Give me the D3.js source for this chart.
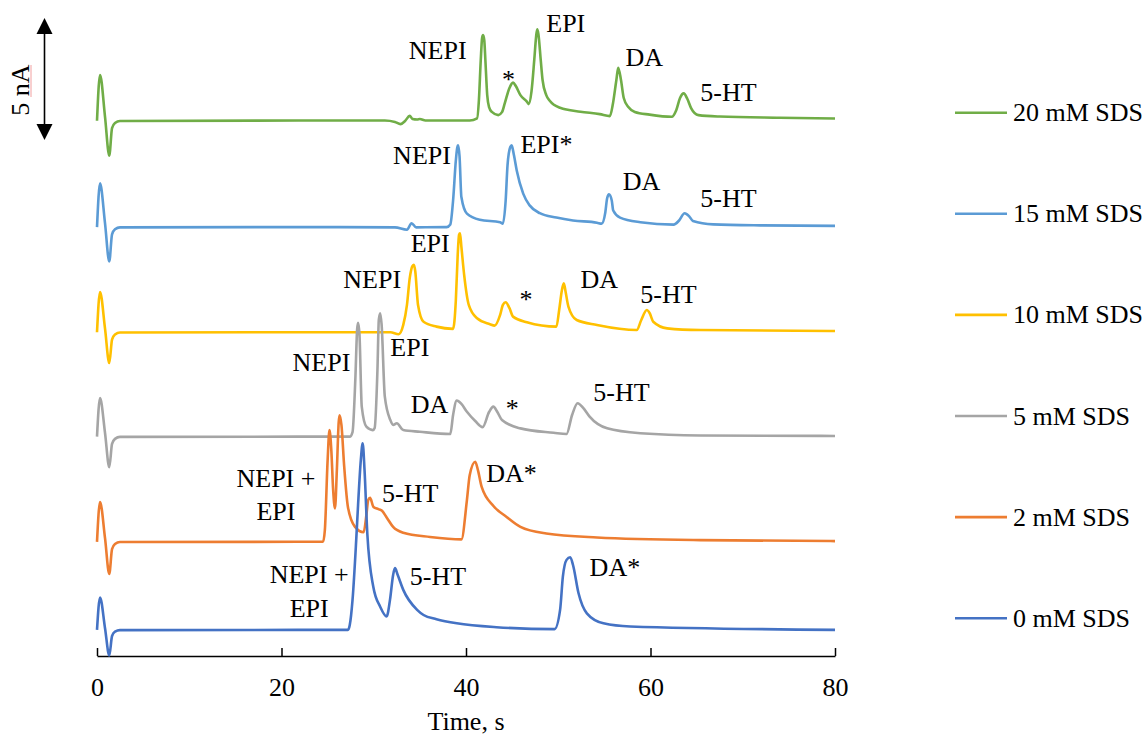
<!DOCTYPE html>
<html>
<head>
<meta charset="utf-8">
<script src="https://cdn.jsdelivr.net/npm/d3@7"></script>
<style>
  body { margin: 0; background: #fff; }
  svg text { font-family: "Liberation Serif", "Times New Roman", serif; fill: #000; }
</style>
</head>
<body>
<div id="chart"></div>
<script>
// electropherograms, time (s) vs current above each trace's own baseline (nA)
var seriesNames = ['20 mM SDS', '15 mM SDS', '10 mM SDS', '5 mM SDS', '2 mM SDS', '0 mM SDS'];
var seriesColors = ['#70AD47', '#5B9BD5', '#FFC000', '#A5A5A5', '#ED7D31', '#4472C4'];
// baseline of each trace (nA), stacked
var offsets = [21.94, 17.58, 13.27, 8.99, 4.68, 1.07];
var xTicks = [0, 20, 40, 60, 80];

var sds20 = [[0,0],[0.33,1.87],[0.87,0.16],[1.33,-1.43],[1.63,-0.3],[1.95,-0.09],[2.49,-0.01],
  [22,0.01],[31.2,0.01],[32.3,-0.05],[32.9,-0.14],[33.4,-0.01],[33.9,0.2],[34.2,0.07],[34.7,0.05],[35,0.07],[35.6,0.01],
  [40.4,0.01],[41.2,0.1],[41.4,0.85],[41.6,2.49],[41.75,3.4],[41.85,3.51],[41.98,3.3],[42.1,2.49],[42.3,1.05],[42.5,0.56],[42.8,0.36],[43.5,0.23],
  [43.9,0.35],[44.2,0.71],[44.7,1.33],[45.1,1.56],[45.4,1.42],[45.9,1.05],[46.6,0.78],[46.8,0.68],[47.1,1.2],[47.4,2.49],[47.6,3.45],
  [47.72,3.75],[47.85,3.55],[48.1,2.49],[48.3,1.67],[48.7,1.05],[49.1,0.81],[50.2,0.53],[52.4,0.37],[54.5,0.27],[55.6,0.19],
  [55.9,0.64],[56.3,1.67],[56.5,2.17],[56.8,1.67],[57.1,0.93],[57.6,0.56],[58.3,0.36],[59.9,0.25],[62.3,0.16],[62.8,0.44],
  [63.2,0.93],[63.6,1.12],[64,0.89],[64.4,0.52],[65.2,0.23],[67.5,0.17],[74,0.12],[80,0.09]];

var sds15 = [[0,0],[0.33,1.79],[0.87,0.15],[1.33,-1.41],[1.63,-0.3],[1.95,-0.09],[2.49,-0.01],
  [22,0],[32.3,-0.01],[33.6,-0.11],[34.1,0.16],[34.6,-0.01],[37.9,0],[38.3,0.11],[38.6,1.09],[38.9,2.73],[39.05,3.25],[39.15,3.35],
  [39.3,2.9],[39.5,1.23],[40.1,0.55],[41.5,0.3],[43.7,0.2],[44,0.14],[44.3,1.09],[44.5,2.53],[44.8,3.28],[44.95,3.35],[45.2,2.94],
  [45.5,2.32],[46.2,1.37],[46.9,0.89],[48,0.57],[49.8,0.39],[51.6,0.27],[54.2,0.18],[54.7,0.14],[55.1,0.6],[55.3,1.18],
  [55.5,1.34],[55.8,1.09],[55.96,0.68],[56.7,0.39],[58.9,0.2],[62.5,0.1],[63.1,0.27],[63.7,0.57],[64.2,0.44],[64.6,0.25],
  [66.8,0.11],[71.9,0.07],[80,0.05]];

var sds10 = [[0,0],[0.33,1.65],[0.87,0.15],[1.33,-1.26],[1.63,-0.3],[1.95,-0.09],[2.49,-0.01],
  [22,0],[31.8,0],[32.7,-0.08],[33.2,0.3],[33.6,1.12],[33.9,2.22],[34.2,2.72],[34.35,2.76],[34.5,2.5],[34.8,1.12],[35.4,0.43],
  [36.8,0.23],[38.6,0.14],[38.9,1.32],[39.1,3.17],[39.25,4.0],[39.35,4.06],[39.5,3.5],[39.8,2.35],[40.3,1.12],[41.2,0.57],[42.6,0.33],
  [43.1,0.27],[43.7,0.71],[44,1.12],[44.3,1.23],[44.7,1],[45.1,0.64],[46.6,0.41],[49.8,0.23],[50.1,0.91],[50.4,1.73],
  [50.6,2.01],[50.8,1.65],[51.1,1.05],[52,0.5],[54.2,0.3],[58.5,0.09],[59,0.5],[59.6,0.91],[59.9,0.79],[60.3,0.43],
  [61.8,0.16],[65.4,0.09],[80,0.05]];

var sds5 = [[0,0],[0.33,1.58],[0.87,0.15],[1.33,-1.25],[1.63,-0.3],[1.95,-0.09],[2.49,-0.01],
  [22,0],[27.4,0],[27.7,0.19],[28,2.32],[28.2,4.4],[28.3,4.67],[28.45,4.2],[28.7,1.23],[29.2,0.41],[29.9,0.27],
  [30.1,0.36],[30.4,2.73],[30.55,4.8],[30.7,5.06],[30.85,4.6],[31.2,1.64],[31.8,0.68],[32.1,0.48],[32.5,0.55],[33.2,0.27],
  [35,0.2],[38.3,0.11],[38.6,0.89],[39,1.48],[39.5,1.34],[40.1,1.02],[41,0.64],[41.8,0.39],[42.5,1.01],[42.96,1.23],
  [43.4,1.01],[43.9,0.68],[45.9,0.34],[49.5,0.16],[50.9,0.11],[51.5,0.89],[52.1,1.37],[52.7,1.18],[53.4,0.82],[55.3,0.34],
  [58.9,0.14],[65.4,0.05],[80,0.03]];

var sds2 = [[0,0],[0.33,1.63],[0.87,0.15],[1.33,-1.32],[1.63,-0.3],[1.95,-0.09],[2.49,-0.01],
  [22,0],[24.5,0],[24.7,0.48],[25,3.35],[25.2,4.58],[25.4,3.76],[25.6,2.12],[25.8,1.37],[26,2.93],[26.2,4.9],
  [26.3,5.19],[26.5,4.78],[26.8,3.07],[27.2,1.43],[27.97,0.61],[28.9,0.39],[29.2,1.09],[29.4,1.71],[29.6,1.8],[29.97,1.43],
  [30.5,1.34],[30.9,1.27],[31.4,1],[32.1,0.61],[33.2,0.37],[36.1,0.2],[39.5,0.1],[40.1,1.71],[40.4,2.73],[41,3.28],
  [41.3,2.93],[41.7,2.25],[43,1.46],[44.4,1.02],[45.9,0.61],[48.7,0.34],[54.2,0.18],[65.4,0.07],[80,0.03]];

var sds0 = [[0,0],[0.33,1.33],[0.87,0.07],[1.33,-1.05],[1.63,-0.25],[1.95,-0.07],[2.49,-0.01],
  [22,0],[27.2,0],[27.4,0.2],[27.7,1.23],[28.1,3.69],[28.3,5.12],[28.6,6.97],[28.8,7.65],[29,6.56],[29.3,3.96],
  [29.95,1.77],[30.7,0.95],[31.4,0.55],[31.76,1.23],[32.1,2.25],[32.3,2.53],[32.6,2.25],[33.2,1.64],[34.7,0.82],[35.4,0.61],
  [36.8,0.44],[39,0.27],[43.3,0.11],[49.6,0.03],[50.2,0.82],[50.5,2.18],[50.9,2.87],[51.3,2.98],[51.6,2.66],[52.2,1.5],
  [53.1,0.68],[54.9,0.27],[57.8,0.14],[80,0]];

var traces = [sds20, sds15, sds10, sds5, sds2, sds0];

// peak labels: [trace, time, current (absolute nA), text]
var peakLabels = [
  [0, 33.8, 24.47, 'NEPI'], [0, 43.9, 23.28, '*'], [0, 48.7, 25.57, 'EPI'], [0, 57.3, 24.18, 'DA'], [0, 65.4, 22.76, '5-HT'],
  [1, 32.1, 20.16, 'NEPI'], [1, 45.9, 20.6, 'EPI*'], [1, 57.0, 19.1, 'DA'], [1, 65.4, 18.4, '5-HT'],
  [2, 34.0, 16.56, 'EPI'], [2, 26.7, 15.08, 'NEPI'], [2, 45.8, 14.26, '*'], [2, 52.4, 15.08, 'DA'], [2, 58.9, 14.47, '5-HT'],
  [3, 31.8, 12.3, 'EPI'], [3, 21.2, 11.69, 'NEPI'], [3, 34.0, 9.97, 'DA'], [3, 44.3, 9.8, '*'], [3, 53.8, 10.46, '5-HT'],
  [4, 30.9, 6.32, '5-HT'], [4, 42.2, 7.14, 'DA*'],
  [5, 33.9, 2.91, '5-HT'], [5, 53.4, 3.28, 'DA*']
];
// two-line centred labels: [time, current of first line, current of second line]
var comboLabels = [[19.4, 6.93, 5.57], [23.0, 2.98, 1.61]];

var W = 1147, H = 738;
var svg = d3.select('#chart').append('svg')
  .attr('width', W)
  .attr('height', H);

var x = d3.scaleLinear().domain([0, 80]).range([97, 835]);
var y = d3.scaleLinear().domain([0, 26.15]).range([656, 18]);

var line = d3.line()
  .x(function(d) { return x(d[0]); })
  .y(function(d) { return d[1]; })
  .curve(d3.curveMonotoneX);

// x axis, ticks pointing inwards
var xAxis = svg.append('g')
  .attr('transform', 'translate(0,656)')
  .call(d3.axisBottom(x).tickValues(xTicks).tickSizeInner(-8).tickSizeOuter(0).tickPadding(22));
xAxis.select('.domain').attr('stroke', '#000').attr('stroke-width', 1.5);
xAxis.selectAll('.tick line').attr('stroke', '#000').attr('stroke-width', 1.5);
xAxis.selectAll('text')
  .style('font-family', '"Liberation Serif", "Times New Roman", serif')
  .style('font-size', '26px')
  .attr('fill', '#000');

svg.append('text')
  .attr('x', 466)
  .attr('y', 730)
  .attr('text-anchor', 'middle')
  .style('font-size', '26px')
  .text('Time, s');

// traces
traces.forEach(function(tr, i) {
  svg.append('path')
    .datum(tr.map(function(d) { return [d[0], y(offsets[i] + d[1])]; }))
    .attr('d', line)
    .attr('fill', 'none')
    .attr('stroke', seriesColors[i])
    .attr('stroke-width', 2.6)
    .attr('stroke-linejoin', 'round');
});

// peak labels
svg.selectAll('.peak')
  .data(peakLabels)
  .enter()
  .append('text')
  .attr('class', 'peak')
  .attr('x', function(d) { return x(d[1]); })
  .attr('y', function(d) { return y(d[2]); })
  .style('font-size', '26px')
  .text(function(d) { return d[3]; });

comboLabels.forEach(function(d) {
  svg.append('text').attr('x', x(d[0])).attr('y', y(d[1]))
    .attr('text-anchor', 'middle').style('font-size', '26px').text('NEPI +');
  svg.append('text').attr('x', x(d[0])).attr('y', y(d[2]))
    .attr('text-anchor', 'middle').style('font-size', '26px').text('EPI');
});

// 5 nA scale arrow
var arrowX = 44.5, arrowTop = y(26.15), arrowBot = y(26.15 - 5);
svg.append('line')
  .attr('x1', arrowX).attr('x2', arrowX)
  .attr('y1', arrowTop + 10).attr('y2', arrowBot - 10)
  .attr('stroke', '#000').attr('stroke-width', 1.6);
svg.append('path')
  .attr('d', 'M' + arrowX + ',' + arrowTop + 'L' + (arrowX - 8) + ',' + (arrowTop + 16) + 'L' + (arrowX + 8) + ',' + (arrowTop + 16) + 'Z')
  .attr('fill', '#000');
svg.append('path')
  .attr('d', 'M' + arrowX + ',' + arrowBot + 'L' + (arrowX - 8) + ',' + (arrowBot - 16) + 'L' + (arrowX + 8) + ',' + (arrowBot - 16) + 'Z')
  .attr('fill', '#000');
svg.append('text')
  .attr('transform', 'translate(29,90) rotate(-90)')
  .attr('text-anchor', 'middle')
  .style('font-size', '26px')
  .text('5 nA');
svg.append('line')
  .attr('x1', 31).attr('x2', 31).attr('y1', 65).attr('y2', 97)
  .attr('stroke', '#f2a0a0').attr('stroke-width', 1);

// legend
var legend = svg.append('g');
seriesNames.forEach(function(name, i) {
  var ly = 112.7 + i * 101.1;
  legend.append('line')
    .attr('x1', 955).attr('x2', 1007)
    .attr('y1', ly).attr('y2', ly)
    .attr('stroke', seriesColors[i])
    .attr('stroke-width', 2.6);
  legend.append('text')
    .attr('x', 1013)
    .attr('y', ly)
    .attr('dy', '0.33em')
    .style('font-size', '26px')
    .text(name);
});
</script>
</body>
</html>
